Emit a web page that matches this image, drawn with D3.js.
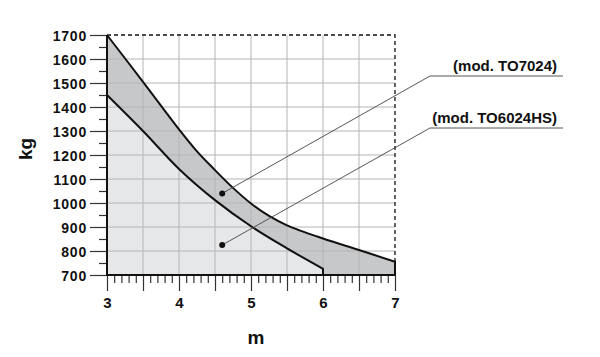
<!DOCTYPE html>
<html>
<head>
<meta charset="utf-8">
<script src="https://cdn.jsdelivr.net/npm/d3@7"></script>
<style>
  body { margin: 0; background: #fff; }
  text { font-family: "Liberation Sans", Arial, sans-serif; font-weight: bold; fill: #111; }
</style>
</head>
<body>
<div id="chart"></div>
<script>
// data (m -> kg)
const upperX = [3, 3.5, 4, 4.25, 4.5, 4.75, 5, 5.25, 5.5, 6, 6.5, 7];
const upperKg = [1700, 1505, 1307, 1215, 1137, 1063, 998, 946, 907, 852, 804, 755];
const lowerX = [3, 3.5, 4, 4.5, 5, 5.5, 6];
const lowerKg = [1450, 1300, 1142, 1012, 903, 811, 726];

const xTicks = [3, 4, 5, 6, 7];
const yTicks = [700, 800, 900, 1000, 1100, 1200, 1300, 1400, 1500, 1600, 1700];

const labels = ["(mod. TO7024)", "(mod. TO6024HS)"];
const dotX = [4.6, 4.6];
const dotKg = [1040, 825];

const width = 600, height = 357;

const svg = d3.select("#chart")
  .append("svg")
  .attr("width", width)
  .attr("height", height);

const x = d3.scaleLinear().domain([3, 7]).range([107, 395]);
const y = d3.scaleLinear().domain([700, 1700]).range([275, 35]);

const upper = upperX.map((d, i) => [d, upperKg[i]]);
const lower = lowerX.map((d, i) => [d, lowerKg[i]]);

const curve = d3.curveCatmullRom.alpha(0.5);

const area = d3.area()
  .x(d => x(d[0]))
  .y0(y(700))
  .y1(d => y(d[1]))
  .curve(curve);

const line = d3.line()
  .x(d => x(d[0]))
  .y(d => y(d[1]))
  .curve(curve);

// fills
svg.append("path").attr("d", area(upper)).attr("fill", "#c7c8ca");
svg.append("path").attr("d", area(lower)).attr("fill", "#e6e7e9");

// grid
const gridX = d3.range(3.5, 7, 0.5);
svg.append("g").selectAll("line")
  .data(gridX)
  .enter().append("line")
  .attr("x1", d => x(d)).attr("x2", d => x(d))
  .attr("y1", y(1700)).attr("y2", y(700))
  .attr("stroke", "#b5b5b5").attr("stroke-width", 1);

svg.append("g").selectAll("line")
  .data(yTicks.slice(1, -1))
  .enter().append("line")
  .attr("x1", x(3)).attr("x2", x(7))
  .attr("y1", d => y(d)).attr("y2", d => y(d))
  .attr("stroke", "#b5b5b5").attr("stroke-width", 1);

// dashed frame top / right
const last = upper[upper.length - 1];
svg.append("path")
  .attr("d", `M${x(3)},${y(1700)}H${x(7)}V${y(last[1])}`)
  .attr("fill", "none")
  .attr("stroke", "#111")
  .attr("stroke-width", 1.3)
  .attr("stroke-dasharray", "4,3");

// curves, closed down to the axis
svg.append("path")
  .attr("d", line(upper) + `V${y(700)}`)
  .attr("fill", "none").attr("stroke", "#111").attr("stroke-width", 2);
svg.append("path")
  .attr("d", line(lower) + `V${y(700)}`)
  .attr("fill", "none").attr("stroke", "#111").attr("stroke-width", 2);

// y axis
const yAxis = d3.axisLeft(y)
  .tickValues(d3.range(700, 1701, 50))
  .tickSize(0)
  .tickFormat(d => d % 100 === 0 ? d : "");

const gy = svg.append("g")
  .attr("transform", `translate(${x(3)},0)`)
  .call(yAxis);
gy.select(".domain").remove();
gy.selectAll(".tick line")
  .attr("x2", d => d % 100 === 0 ? -17 : -8)
  .attr("stroke", "#333")
  .attr("stroke-width", 1.2);
gy.selectAll(".tick text")
  .attr("x", -20)
  .attr("dy", "0.36em")
  .style("font-size", "14px")
  .style("letter-spacing", "0.8px")
  .style("font-family", "'Liberation Sans', Arial, sans-serif")
  .style("font-weight", "bold")
  .attr("fill", "#111");

// x axis
const xAxis = d3.axisBottom(x)
  .tickValues(d3.range(30, 71).map(d => d / 10))
  .tickSize(0)
  .tickFormat(d => xTicks.includes(d) ? d : "");

const gx = svg.append("g")
  .attr("transform", `translate(0,${y(700)})`)
  .call(xAxis);
gx.select(".domain").remove();
gx.selectAll(".tick line")
  .attr("y2", d => Math.round(d * 10) % 5 === 0 ? 16 : 8)
  .attr("stroke", "#333")
  .attr("stroke-width", 1.2);
gx.selectAll(".tick text")
  .attr("y", 22)
  .attr("dy", "0.71em")
  .style("font-size", "15px")
  .style("font-family", "'Liberation Sans', Arial, sans-serif")
  .style("font-weight", "bold")
  .attr("fill", "#111");

// axis lines (left and bottom)
svg.append("path")
  .attr("d", `M${x(3)},${y(1700)}V${y(700)}H${x(7)}`)
  .attr("fill", "none").attr("stroke", "#111").attr("stroke-width", 2);

// axis titles
svg.append("text")
  .attr("transform", `translate(32,149) rotate(-90)`)
  .attr("text-anchor", "middle")
  .style("font-size", "19px")
  .text("kg");

svg.append("text")
  .attr("x", 256).attr("y", 344)
  .attr("text-anchor", "middle")
  .style("font-size", "19px")
  .text("m");

// model callouts
const labelY = [76, 128];
labels.forEach((t, i) => {
  svg.append("text")
    .attr("x", 557).attr("y", labelY[i] - 5)
    .attr("text-anchor", "end")
    .style("font-size", "15px")
    .text(t);
  svg.append("path")
    .attr("d", `M${x(dotX[i])},${y(dotKg[i])}L430,${labelY[i]}H563`)
    .attr("fill", "none")
    .attr("stroke", "#444")
    .attr("stroke-width", 0.9);
  svg.append("circle")
    .attr("cx", x(dotX[i])).attr("cy", y(dotKg[i]))
    .attr("r", 3)
    .attr("fill", "#111");
});
</script>
</body>
</html>
